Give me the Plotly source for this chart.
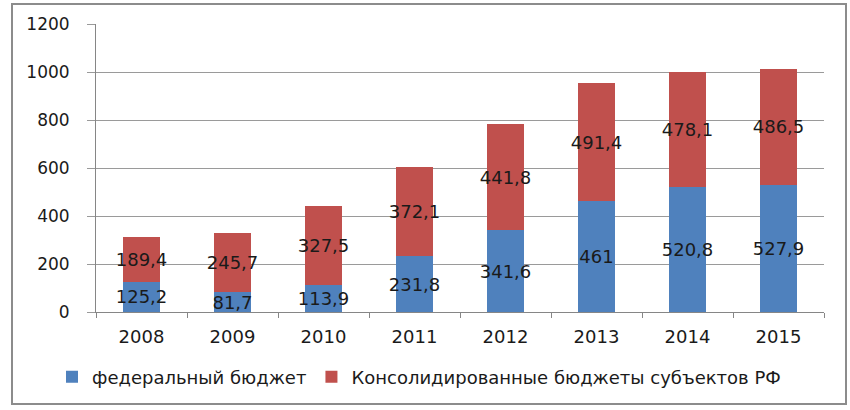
import plotly.graph_objects as go

years = ["2008", "2009", "2010", "2011", "2012", "2013", "2014", "2015"]
federal = [125.2, 81.7, 113.9, 231.8, 341.6, 461, 520.8, 527.9]
regional = [189.4, 245.7, 327.5, 372.1, 441.8, 491.4, 478.1, 486.5]
y_ticks = [0, 200, 400, 600, 800, 1000, 1200]

def fmt(v):
    return f"{v:g}".replace(".", ",")

FONT = "DejaVu Sans"
fig = go.Figure()
fig.add_trace(go.Bar(
    x=years, y=federal, name="федеральный бюджет",
    marker=dict(color="#4F81BD", line=dict(width=0)),
    text=[fmt(v) for v in federal], textposition="inside",
    insidetextanchor="middle", textangle=0,
    textfont=dict(family=FONT, size=18, color="#1a1a1a"),
))
fig.add_trace(go.Bar(
    x=years, y=regional, name="Консолидированные бюджеты субъектов РФ",
    marker=dict(color="#C0504D", line=dict(width=0)),
    text=[fmt(v) for v in regional], textposition="inside",
    insidetextanchor="middle", textangle=0,
    textfont=dict(family=FONT, size=18, color="#1a1a1a"),
))

L, R, T, B = 96, 26, 24, 98
W, H = 850, 410
pw, ph = W - L - R, H - T - B

fig.update_layout(
    barmode="stack", bargap=0.6,
    width=W, height=H,
    margin=dict(l=L, r=R, t=T, b=B, pad=0),
    paper_bgcolor="white", plot_bgcolor="white",
    font=dict(family=FONT, size=17, color="#1a1a1a"),
    uniformtext=dict(minsize=18, mode="show"),
    showlegend=True,
    legend=dict(orientation="h", x=(52 - L) / pw, xanchor="left",
                y=(312 - 377) / ph, yanchor="middle",
                font=dict(family=FONT, size=18, color="#1a1a1a"),
                itemsizing="constant", traceorder="normal"),
    xaxis=dict(showgrid=False, showline=True, linecolor="#868686", linewidth=1,
               ticks="outside", tickson="boundaries", ticklen=5,
               tickcolor="#868686", tickfont=dict(size=18),
               ticklabelstandoff=8),
    yaxis=dict(range=[0, 1200], tickvals=y_ticks, showgrid=True,
               gridcolor="#9a9a9a", gridwidth=1, showline=True,
               linecolor="#868686", linewidth=1, ticks="outside", ticklen=8,
               tickcolor="#9a9a9a", tickfont=dict(size=17),
               ticklabelstandoff=14, zeroline=False),
    shapes=[dict(type="rect", xref="paper", yref="paper",
                 x0=(12 - L) / pw, x1=(846 - L) / pw,
                 y0=(312 - 404) / ph, y1=(312 - 4) / ph,
                 line=dict(color="#8c8c8c", width=2), fillcolor="rgba(0,0,0,0)",
                 layer="below")],
)

fig.write_html("out.html")
